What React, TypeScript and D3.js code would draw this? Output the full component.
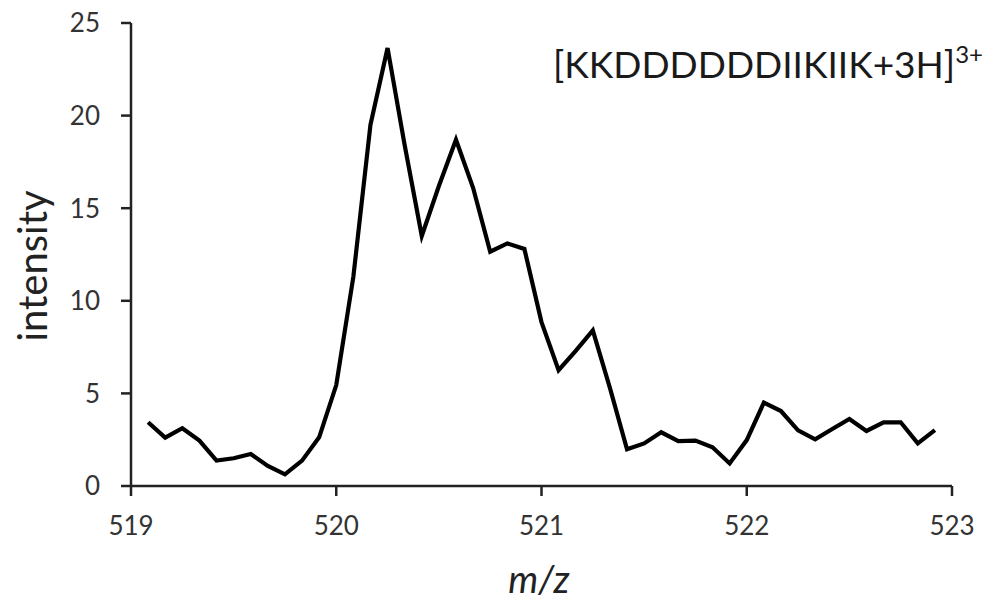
import React, { useEffect, useRef } from "react";
import * as d3 from "d3";

// Spectrum sampled every 1/12 m/z unit, from 519 + 1/12 to 523 - 1/12
const mzStart = 519 + 1 / 12;
const mzStep = 1 / 12;
const intensity = [
  3.44, 2.61, 3.12, 2.45, 1.37, 1.5, 1.73, 1.08, 0.63, 1.37, 2.63, 5.45,
  11.3, 19.5, 23.65, 18.4, 13.5, 16.2, 18.7, 16.1, 12.65, 13.1, 12.8, 8.85,
  6.25, 7.3, 8.4, 5.3, 1.98, 2.3, 2.9, 2.42, 2.45, 2.09, 1.22, 2.48,
  4.5, 4.05, 3.0, 2.52, 3.08, 3.62, 2.97, 3.44, 3.44, 2.3, 3.02,
];
const xTicks = [519, 520, 521, 522, 523];
const yTicks = [0, 5, 10, 15, 20, 25];

const W = 989;
const H = 604;
const FONT = "Lato, 'Open Sans', sans-serif";

export default function App() {
  const ref = useRef<SVGSVGElement | null>(null);

  useEffect(() => {
    const svg = d3.select(ref.current);
    svg.selectAll("*").remove();

    const x = d3.scaleLinear().domain([519, 523]).range([131, 952]);
    const y = d3.scaleLinear().domain([0, 25]).range([486, 23]);

    const axisColor = "#222";

    // x axis
    const gx = svg.append("g").attr("transform", `translate(0,${y(0)})`);
    gx.append("line")
      .attr("x1", x(519)).attr("x2", x(523))
      .attr("stroke", axisColor).attr("stroke-width", 2.5);
    gx.selectAll("line.tick").data(xTicks).join("line")
      .attr("class", "tick")
      .attr("x1", (d) => x(d)).attr("x2", (d) => x(d))
      .attr("y1", 0).attr("y2", 10)
      .attr("stroke", axisColor).attr("stroke-width", 2.5);
    gx.selectAll("text").data(xTicks).join("text")
      .attr("x", (d) => x(d)).attr("y", 49)
      .attr("text-anchor", "middle")
      .attr("font-family", FONT).attr("font-size", 26)
      .attr("fill", "#333")
      .text((d) => d3.format("d")(d));

    // y axis
    const gy = svg.append("g").attr("transform", `translate(${x(519)},0)`);
    gy.append("line")
      .attr("y1", y(0)).attr("y2", y(25))
      .attr("stroke", axisColor).attr("stroke-width", 2.5);
    gy.selectAll("line.tick").data(yTicks).join("line")
      .attr("class", "tick")
      .attr("y1", (d) => y(d)).attr("y2", (d) => y(d))
      .attr("x1", -10).attr("x2", 0)
      .attr("stroke", axisColor).attr("stroke-width", 2.5);
    gy.selectAll("text").data(yTicks).join("text")
      .attr("x", -31).attr("y", (d) => y(d))
      .attr("dy", "0.36em")
      .attr("text-anchor", "end")
      .attr("font-family", FONT).attr("font-size", 26)
      .attr("fill", "#333")
      .text((d) => String(d));

    // spectrum trace
    const pts = intensity.map((v, i) => [mzStart + i * mzStep, v] as [number, number]);
    const line = d3.line<[number, number]>()
      .x((d) => x(d[0]))
      .y((d) => y(d[1]));
    svg.append("path")
      .datum(pts)
      .attr("d", line)
      .attr("fill", "none")
      .attr("stroke", "#000")
      .attr("stroke-width", 4.2)
      .attr("stroke-linejoin", "miter");

    // axis titles
    svg.append("text")
      .attr("transform", `translate(47,266) rotate(-90)`)
      .attr("text-anchor", "middle")
      .attr("font-family", FONT).attr("font-size", 40)
      .attr("fill", "#222")
      .text("intensity");
    svg.append("text")
      .attr("x", 539).attr("y", 593)
      .attr("text-anchor", "middle")
      .attr("font-family", FONT).attr("font-size", 38)
      .attr("font-style", "italic")
      .attr("fill", "#222")
      .text("m/z");

    // ion label
    const label = svg.append("text")
      .attr("x", 553).attr("y", 78)
      .attr("font-family", FONT).attr("font-size", 37)
      .attr("fill", "#1a1a1a");
    label.append("tspan").text("[KKDDDDDDIIKIIK+3H]");
    label.append("tspan")
      .attr("dy", -15)
      .attr("font-size", 24)
      .text("3+");
  }, []);

  return (
    <div style={{ position: "absolute", left: 0, top: 0 }}>
      <svg ref={ref} width={W} height={H} style={{ display: "block", background: "#fff" }} />
    </div>
  );
}
